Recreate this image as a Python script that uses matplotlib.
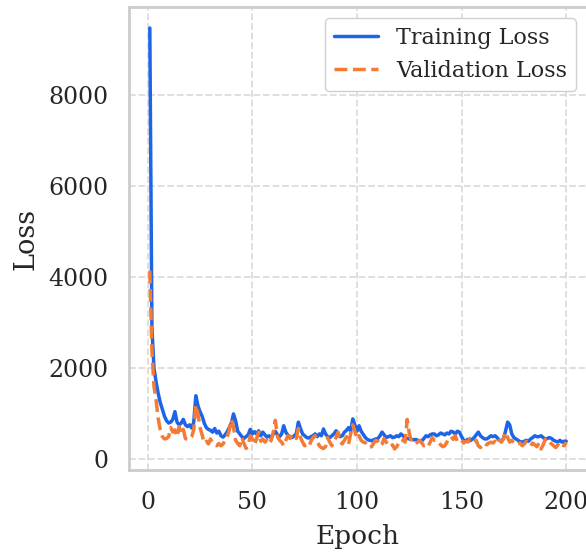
import matplotlib
matplotlib.use("Agg")
import matplotlib.pyplot as plt
import numpy as np
import seaborn as sns

# Loss history (epochs 1..200)
epochs = np.arange(1, 201)

train_loss = [
    9480, 2900, 2000, 1700, 1450, 1250, 1100, 950, 850, 800,
    820, 880, 1050, 820, 760, 800, 880, 760, 720, 760,
    690, 820, 1400, 1180, 1050, 950, 800, 700, 660, 640,
    600, 680, 580, 620, 520, 490, 540, 610, 700, 800,
    1000, 850, 620, 560, 500, 460, 500, 540, 660, 560,
    610, 560, 630, 520, 600, 540, 490, 520, 470, 560,
    620, 540, 500, 560, 740, 600, 530, 500, 480, 520,
    560, 820, 680, 560, 520, 480, 470, 500, 520, 560,
    500, 560, 520, 670, 560, 500, 480, 520, 560, 630,
    560, 500, 520, 600, 640, 700, 620, 890, 760, 620,
    740, 620, 550, 480, 440, 420, 410, 430, 450, 460,
    520, 600, 540, 480, 500, 520, 480, 490, 520, 500,
    560, 520, 480, 460, 450, 440, 430, 440, 420, 410,
    410, 460, 520, 500, 540, 560, 560, 520, 540, 580,
    560, 540, 580, 560, 620, 600, 560, 620, 600, 500,
    420, 410, 440, 410, 440, 480, 540, 600, 520, 480,
    450, 450, 480, 520, 500, 520, 480, 420, 410, 450,
    620, 820, 760, 560, 480, 450, 420, 390, 380, 400,
    420, 400, 450, 480, 520, 500, 500, 520, 480, 450,
    460, 480, 460, 420, 400, 380, 420, 380, 400, 400,
]

val_loss = [
    4150, 2400, 1600, 1300, 900, 650, 500, 450, 460, 500,
    700, 600, 650, 500, 720, 560, 660, 460, 430, 450,
    500, 650, 1200, 1000, 700, 540, 360, 400, 340, 450,
    360, 320, 300, 350, 300, 340, 420, 500, 650, 880,
    700, 420, 350, 300, 480, 350, 240, 300, 520, 460,
    320, 450, 600, 400, 450, 380, 420, 340, 420, 600,
    860, 500, 420, 380, 300, 420, 520, 460, 540, 520,
    460, 680, 480, 380, 300, 320, 280, 400, 480, 520,
    400, 300, 260, 240, 280, 480, 380, 300, 420, 480,
    600, 380, 340, 420, 500, 340, 560, 760, 620, 450,
    520, 420, 380, 370, 300, 260, 280, 360, 420, 400,
    300, 340, 460, 380, 300, 280, 320, 230, 280, 360,
    440, 420, 380, 880, 580, 400, 360, 340, 380, 420,
    360, 300, 320, 280, 380, 480, 420, 420, 380, 320,
    280, 300, 380, 460, 500, 440, 520, 400, 380, 420,
    360, 400, 380, 460, 420, 380, 420, 300, 260, 300,
    360, 320, 360, 380, 360, 400, 340, 420, 380, 460,
    600, 480, 380, 420, 360, 320, 340, 360, 300, 340,
    400, 360, 300, 360, 320, 280, 360, 230, 320, 440,
    460, 380, 340, 300, 260, 320, 380, 320, 300, 380,
]

sns.set_theme(style="whitegrid")
plt.rcParams['font.family'] = ['DejaVu Serif']

fig = plt.figure(figsize=(5.86, 5.54), dpi=100)
ax = fig.add_axes([129 / 586, 84 / 554, 458 / 586, 463 / 554])

ax.plot(epochs, train_loss, color='#1c64e8', lw=2.5, label='Training Loss')
ax.plot(epochs, val_loss, color='#f47b36', lw=2.5, ls='--', label='Validation Loss')

ax.set_xlabel('Epoch', fontsize=19, labelpad=7)
ax.set_ylabel('Loss', fontsize=19.5, labelpad=6)
ax.set_xticks([0, 50, 100, 150, 200])
ax.set_yticks([0, 2000, 4000, 6000, 8000])
ax.tick_params(axis='both', labelsize=17, pad=15, length=0, colors='#262626')

ax.grid(True, linestyle='--', color='#dcdcdc', linewidth=1.3)
for s in ax.spines.values():
    s.set_color('#cccccc')
    s.set_linewidth(2.0)

ax.legend(loc='upper right', fontsize=16, frameon=True, edgecolor='#d0d0d0',
          fancybox=True, framealpha=1.0)

fig.savefig('out.png', dpi=100)
